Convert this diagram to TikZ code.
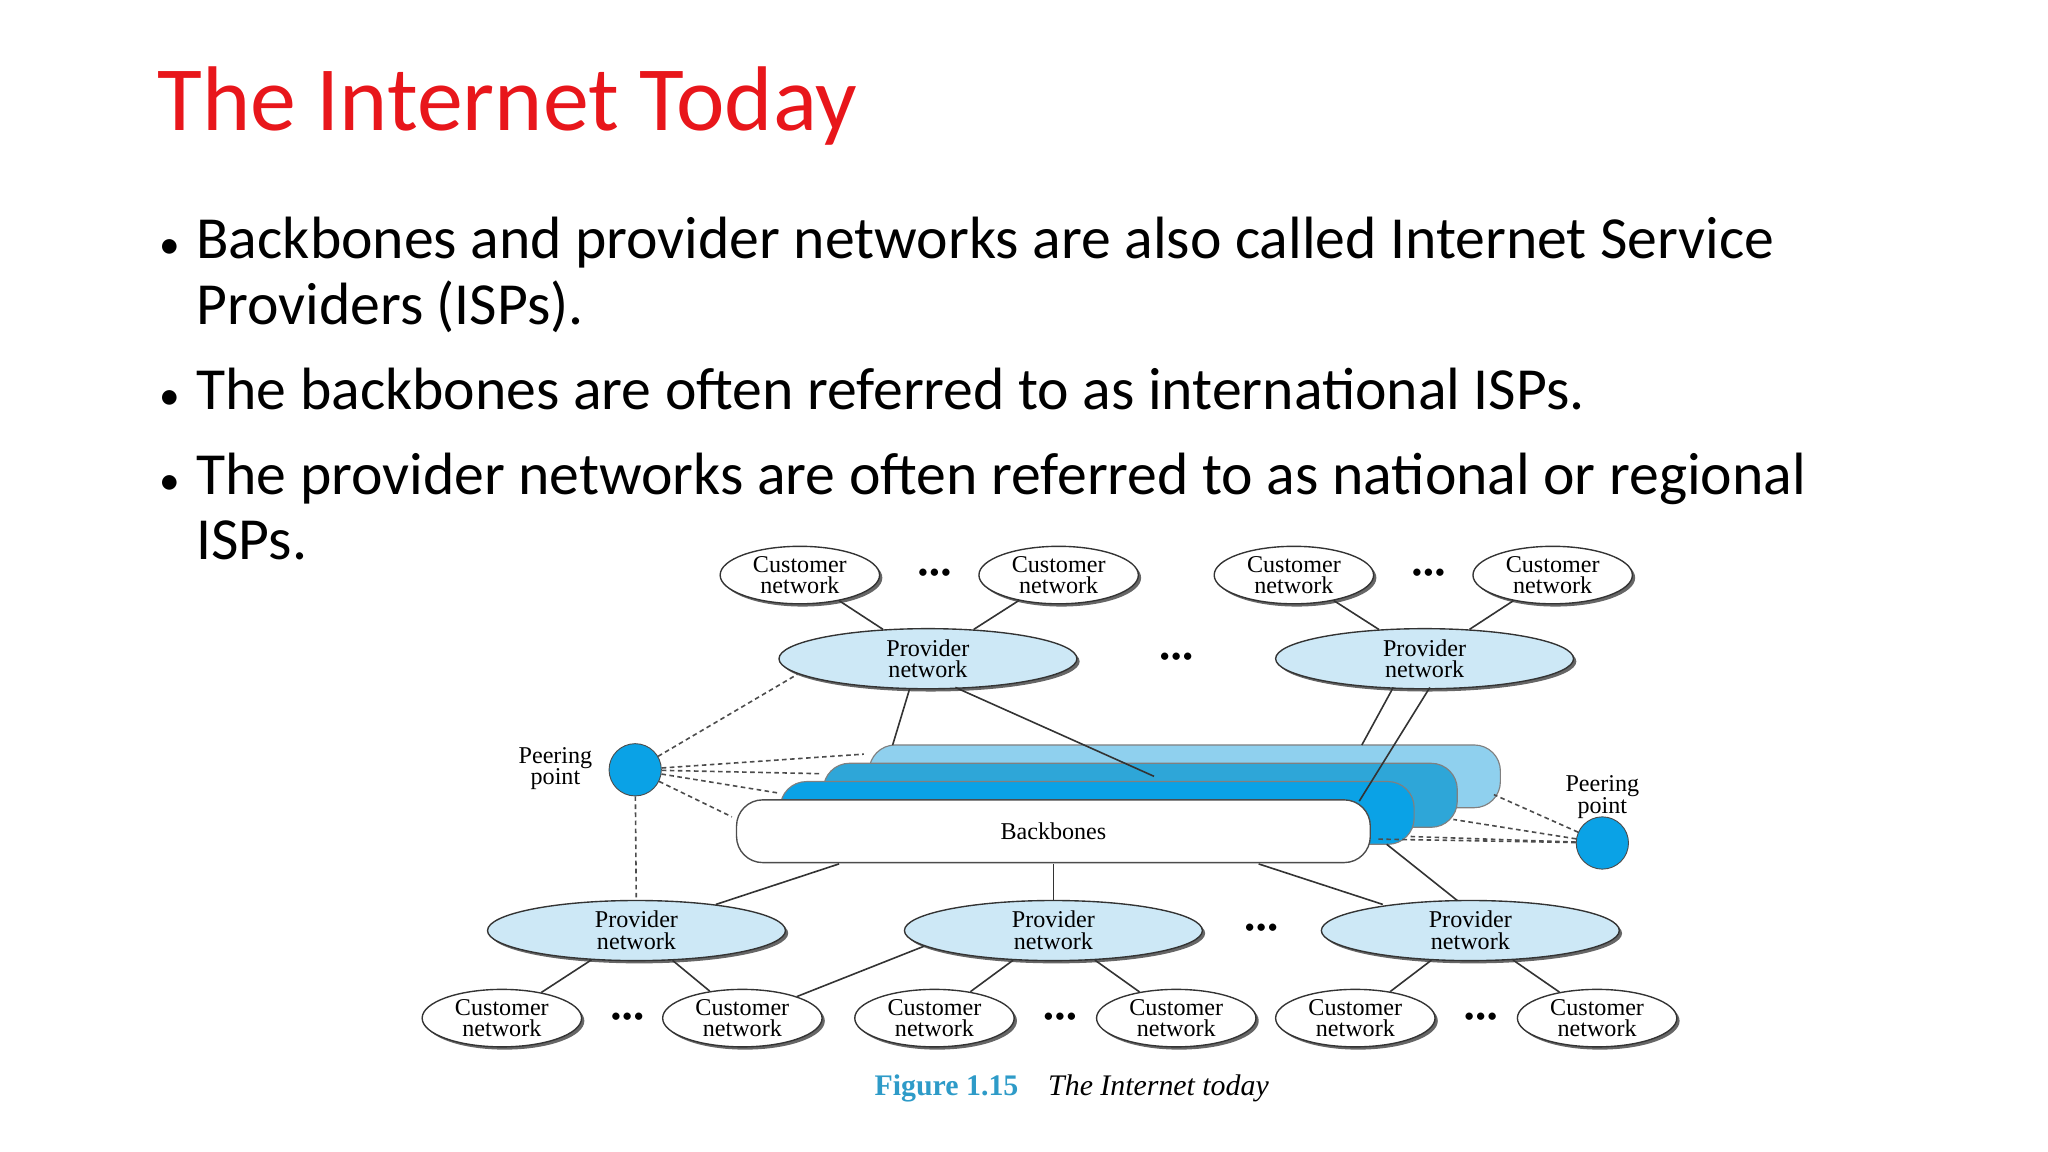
\documentclass[tikz,border=0pt]{standalone}
\usepackage{fontspec}
\setmainfont{Carlito}
\newfontfamily\figfont{Liberation Serif}
\usetikzlibrary{shapes.geometric}
\definecolor{titlered}{HTML}{E8161B}
\definecolor{provblue}{HTML}{CDE8F6}
\definecolor{layA}{HTML}{8FD0EE}
\definecolor{layB}{HTML}{2EA6D8}
\definecolor{layC}{HTML}{0AA2E6}
\definecolor{capblue}{HTML}{2E9BC8}
\begin{document}
\begin{tikzpicture}[x=0.02cm,y=-0.02cm,
  cust/.style={ellipse,draw=black!80,line width=0.6pt,fill=white,inner sep=0pt,
    minimum width=2.44cm,minimum height=0.88cm,font=\figfont\fontsize{10.5}{9.5}\selectfont,align=center,
    preaction={fill=black!60,transform canvas={xshift=1.2pt,yshift=-1.2pt}}},
  prov/.style={ellipse,draw=black!80,line width=0.6pt,fill=provblue,inner sep=0pt,
    minimum width=4.56cm,minimum height=0.92cm,font=\figfont\fontsize{10.5}{9.5}\selectfont,align=center,
    preaction={fill=black!60,transform canvas={xshift=1.2pt,yshift=-1.2pt}}},
  peer/.style={circle,draw=black!70,fill=layC,minimum size=0.8cm,inner sep=0pt},
  lbl/.style={font=\figfont\fontsize{10.5}{9.5}\selectfont,align=center},
  dots/.style={font=\fontsize{9}{9}\selectfont,inner sep=0pt},
  ln/.style={line width=0.7pt,black!80},
  dl/.style={line width=0.7pt,black!70,dashed,dash pattern=on 2pt off 1.5pt},
  bul/.style={font=\fontsize{26}{30}\selectfont,inner sep=0pt},
  layer/.style={draw=black!50,line width=0.5pt,rounded corners=0.4cm}]
\useasboundingbox (0,0) rectangle (1567,881);
\node[anchor=base west,text=titlered,font=\fontsize{40}{40}\selectfont,inner sep=0pt] (title) at (120,100) {The Internet Today};
\foreach \y/\t [count=\i] in {198/{Backbones and provider networks are also called Internet Service},248/{Providers (ISPs).},313/{The backbones are often referred to as international ISPs.},378/{The provider networks are often referred to as national or regional},428/{ISPs.}}
  \node[anchor=base west,bul] (t\i) at (150,\y) {\t};
\foreach \y [count=\i] in {198,313,378}
  \node[anchor=base west,bul] (bu\i) at (122,\y) {\fontsize{18}{18}\selectfont•};
% backbone layers
\filldraw[layer,fill=layA] (665,570) rectangle (1148,618);
\filldraw[layer,fill=layB] (630,584) rectangle (1115,633);
\filldraw[layer,fill=layC] (597,598) rectangle (1082,646);
\node[draw=black!70,line width=0.6pt,fill=white,rounded corners=0.4cm,minimum width=9.7cm,minimum height=0.96cm,lbl] (bb) at (806,636) {Backbones};
% nodes
\node[cust] (c1) at (612,440) {Customer\\network};
\node[cust] (c2) at (810,440) {Customer\\network};
\node[cust] (c3) at (990,440) {Customer\\network};
\node[cust] (c4) at (1188,440) {Customer\\network};
\node[prov] (p1) at (710,504) {Provider\\network};
\node[prov] (p2) at (1090,504) {Provider\\network};
\node[prov] (q1) at (487,712) {Provider\\network};
\node[prov] (q2) at (806,712) {Provider\\network};
\node[prov] (q3) at (1125,712) {Provider\\network};
\foreach \x [count=\i] in {384,568,715,900,1037,1222}
  \node[cust] (d\i) at (\x,779) {Customer\\network};
\foreach \x/\y [count=\i] in {715/439,1093/439,900/503,965/711,480/779,811/779,1133/779}
  \node[dots] (dt\i) at (\x,\y) {•\hspace{0.5pt}•\hspace{0.5pt}•};
\node[peer] (pl) at (486,589) {};
\node[peer] (pr) at (1226,645) {};
\node[lbl] (pll) at (425,588) {Peering\\point};
\node[lbl] (prl) at (1226,610) {Peering\\point};
% coordinates on backbones
\coordinate (a1) at (683,570); \coordinate (a2) at (883,594);
\coordinate (a3) at (1042,570); \coordinate (a4) at (1040,613);
\coordinate (e1) at (642,661); \coordinate (e2) at (806,661);
\coordinate (e3) at (963,661); \coordinate (e4) at (1061,646);
\coordinate (l1) at (661,577); \coordinate (l2) at (629,592); \coordinate (l3) at (597,607); \coordinate (l4) at (560,625);
\coordinate (r1) at (1143,608); \coordinate (r2) at (1112,627); \coordinate (r3) at (1078,640); \coordinate (r4) at (1052,642);
\coordinate (p1a) at (696,527); \coordinate (p1b) at (731,526);
\coordinate (p2a) at (1066,526); \coordinate (p2b) at (1094,526);
\coordinate (q3t) at (1058,692); \coordinate (q3u) at (1115,689);
\coordinate (q2l) at (707,724); \coordinate (p1l) at (610,516);
% connectors
\draw[ln] (c1) -- (p1); \draw[ln] (c2) -- (p1);
\draw[ln] (c3) -- (p2); \draw[ln] (c4) -- (p2);
\draw[ln] (p1a) -- (a1);
\draw[ln] (p1b) -- (a2);
\draw[ln] (p2a) -- (a3);
\draw[ln] (p2b) -- (a4);
\draw[ln] (e1) -- (q1); \draw[ln] (e2) -- (q2); \draw[ln] (e3) -- (q3t); \draw[ln] (e4) -- (q3u);
\draw[ln] (q1) -- (d1); \draw[ln] (q1) -- (d2);
\draw[ln] (q2l) -- (d2); \draw[ln] (q2) -- (d3); \draw[ln] (q2) -- (d4);
\draw[ln] (q3) -- (d5); \draw[ln] (q3) -- (d6);
\draw[dl] (pl) -- (p1l);
\foreach \c in {l1,l2,l3,l4} \draw[dl] (pl) -- (\c);
\foreach \c in {r1,r2,r3,r4} \draw[dl] (pr) -- (\c);
\draw[dl] (pl) -- (q1);
\node[anchor=base,font=\figfont\fontsize{13}{13}\selectfont] (cap) at (820,838)
 {\textcolor{capblue}{\bfseries Figure 1.15}\quad\textit{The Internet today}};
\end{tikzpicture}
\end{document}
